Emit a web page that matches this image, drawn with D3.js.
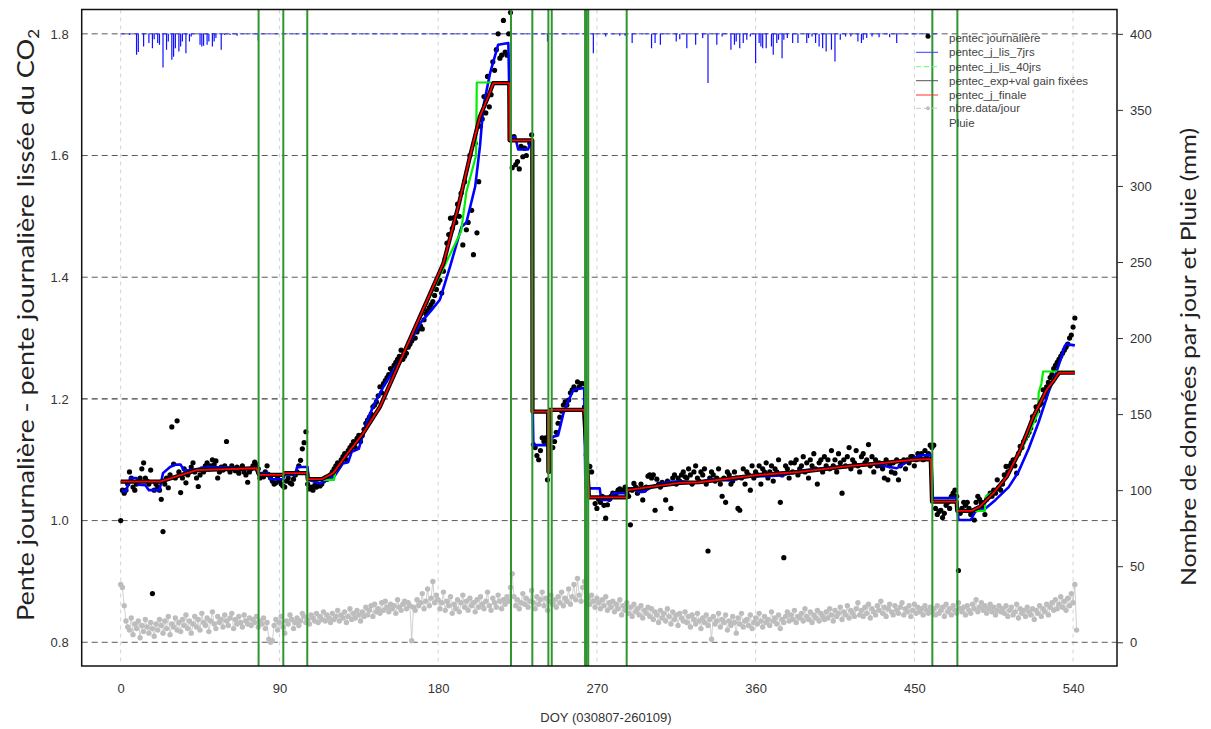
<!DOCTYPE html>
<html>
<head>
<meta charset="utf-8">
<script src="https://cdn.jsdelivr.net/npm/d3@7"></script>
<style>
  html, body { margin: 0; padding: 0; background: #fff; }
  svg { display: block; }
  .tick text { font-family: "Liberation Sans Narrow", "Liberation Sans", Arial, sans-serif; font-size: 13px; fill: #333; }
</style>
</head>
<body>
<svg id="chart" width="1211" height="729"></svg>
<script>
// ---------- axis ticks ----------
const xTicks = [0, 90, 180, 270, 360, 450, 540];
const yLeftTicks = [0.8, 1.0, 1.2, 1.4, 1.6, 1.8];
const yRightTicks = [0, 50, 100, 150, 200, 250, 300, 350, 400];

// ---------- daily CO2 slope (index = DOY, null = no value) ----------
const dailySlope = [
  1.00, 1.05, 1.045, 1.05, 1.06, 1.08, 1.07, 1.055, 1.05, 1.06, 1.065, 1.07, 1.085, 1.095, 1.07, 1.065, 1.06, 1.083, 0.88, 1.05,
  1.06, 1.055, 1.05, 1.035, 0.982, 1.06, 1.07, 1.054, 1.075, 1.154, 1.093, 1.07, 1.164, 1.08, 1.046, 1.07, 1.085, 1.062, 1.075, 1.08,
  1.088, 1.095, 1.08, 1.07, 1.056, 1.075, 1.085, 1.08, 1.09, 1.095, 1.085, 1.09, 1.10, 1.092, 1.098, 1.07, 1.08, 1.088, 1.083, 1.09,
  1.13, 1.085, 1.08, 1.09, 1.086, 1.082, 1.088, 1.078, 1.085, 1.09, 1.08, 1.075, 1.063, 1.08, 1.085, 1.09, 1.096, 1.092, 1.085, 1.07,
  1.075, 1.072, 1.08, 1.09, 1.075, 1.07, 1.065, 1.06, 1.062, 1.07, 1.065, 1.06, 1.057, 1.055, 1.065, 1.07, 1.062, 1.06, 1.068, 1.075,
  1.08, 1.09, 1.099, 1.118, 1.128, 1.146, 1.06, 1.052, 1.055, 1.05, 1.058, 1.055, 1.06, 1.057, 1.06, 1.065, 1.07, 1.068, 1.072, 1.075,
  1.08, 1.085, 1.09, 1.095, 1.09, 1.10, 1.105, 1.11, 1.10, 1.115, 1.12, 1.124, 1.13, 1.12, 1.135, 1.14, 1.13, 1.14, 1.15, 1.16,
  1.165, 1.17, 1.175, 1.187, 1.19, 1.195, 1.205, 1.22, 1.21, 1.225, 1.23, 1.235, 1.24, 1.25, 1.245, 1.255, 1.26, 1.265, 1.27, 1.28,
  1.265, 1.27, 1.275, 1.285, 1.29, 1.295, 1.30, 1.30, 1.31, 1.315, 1.32, 1.315, 1.33, 1.34, 1.345, 1.35, 1.355, 1.36, 1.37, 1.38,
  1.39, 1.395, 1.374, 1.41, 1.43, 1.456, 1.47, 1.497, 1.48, 1.498, 1.49, 1.52, 1.50, 1.538, 1.453, 1.557, 1.478, 1.49, 1.60, 1.51,
  1.437, 1.62, 1.473, 1.557, 1.648, 1.66, 1.697, 1.67, 1.73, 1.68, 1.70, 1.754, 1.74, 1.774, 1.80, 1.76, 1.765, 1.822, 1.77, 1.765,
  1.80, 1.835, 1.58, 1.631, 1.585, 1.59, 1.578, 1.615, 1.598, 1.612, 1.60, null, 1.62, 1.634, 1.125, 1.12, 1.107, 1.10, 1.115, 1.136,
  1.13, 1.136, 1.067, null, null, 1.12, 1.13, 1.145, 1.16, 1.17, 1.18, 1.19, 1.195, 1.19, 1.198, 1.21, 1.215, 1.22, 1.215, 1.228,
  1.22, 1.225, 1.225, 1.187, 1.108, null, 1.089, 1.08, null, 1.028, 1.02, 1.035, 1.03, 1.04, 1.025, 1.004, 1.026, 1.035, 1.04, 1.045,
  1.04, 1.045, 1.05, 1.052, 1.048, 1.05, 1.055, 1.045, 1.04, 0.993, 1.05, 1.061, 1.055, 1.045, 1.05, 1.06, 1.034, 1.05, 1.055, 1.073,
  1.075, 1.07, 1.075, 1.017, 1.068, 1.06, 1.055, 1.063, 1.06, 1.034, 1.065, 1.062, 1.02, 1.07, 1.075, 1.06, 1.07, 1.065, 1.075, 1.08,
  1.072, 1.07, 1.085, 1.075, 1.06, 1.08, 1.09, 1.07, 1.065, 1.08, 1.075, 1.085, 1.06, 0.95, 1.07, 1.08, 1.075, 1.065, 1.07, 1.085,
  1.06, 1.04, 1.07, 1.03, 1.08, 1.075, 1.06, 1.065, 1.08, 1.07, 1.02, 1.017, 1.07, 1.085, 1.06, 1.08, 1.075, 1.05, 1.09, 1.07,
  1.08, 1.075, 1.09, 1.06, 1.085, 1.08, 1.095, 1.07, 1.08, 1.09, 1.065, 1.085, 1.08, 1.10, 1.03, 1.075, 0.939, 1.09, 1.085, 1.07,
  1.095, 1.08, 1.095, 1.10, 1.075, 1.085, 1.09, 1.105, 1.08, 1.095, 1.07, 1.10, 1.09, 1.11, 1.085, 1.06, 1.095, 1.10, 1.08, 1.105,
  1.09, 1.10, 1.085, 1.115, 1.09, 1.10, 1.08, 1.11, 1.095, 1.045, 1.10, 1.09, 1.105, 1.12, 1.085, 1.10, 1.095, 1.115, 1.09, 1.08,
  1.105, 1.11, 1.095, 1.10, 1.125, 1.09, 1.105, 1.08, 1.10, 1.09, 1.095, 1.09, 1.085, 1.07, 1.10, 1.067, 1.09, 1.08, 1.095, 1.078,
  1.10, 1.067, 1.09, 1.095, 1.10, 1.085, 1.10, 1.095, 1.105, 1.105, 1.09, 1.10, 1.11, 1.105, 1.11, 1.10, 1.115, 1.105, 1.11, 1.124,
  1.12, 1.124, 1.02, 1.01, 1.015, 1.017, 1.005, 1.012, 1.025, 1.03, 1.02, 1.04, 1.045, 1.05, 1.04, 0.918, 1.012, 1.02, 1.03, 1.025,
  1.03, 1.02, 1.01, 1.015, 1.001, 1.03, 1.04, 1.035, 1.03, 1.02, 1.01, 1.035, 1.04, 1.045, 1.04, 1.05, 1.045, 1.067, 1.055, 1.05,
  1.06, 1.075, 1.089, 1.08, 1.09, 1.095, 1.10, 1.09, 1.078, 1.11, 1.122, 1.12, 1.13, 1.135, 1.14, 1.145, 1.152, 1.171, 1.165, 1.187,
  1.18, 1.19, 1.193, 1.215, 1.205, 1.22, 1.227, 1.235, 1.24, 1.25, 1.255, 1.26, 1.265, 1.27, 1.275, 1.28, 1.285, 1.29, 1.30, 1.305, 1.318, 1.333
];

// ---------- number of records per day (right axis, index = DOY) ----------
const dataPerDay = [
  38, 36, 24, 14, 10, 8, 16, 5, 12, 9, 14, 3, 11, 7, 15, 10, 6, 13, 9, 4,
  12, 8, 15, 11, 6, 14, 9, 17, 5, 12, 10, 16, 8, 13, 7, 15, 11, 18, 9, 14,
  6, 12, 17, 10, 15, 8, 19, 13, 11, 16, 7, 14, 20, 12, 9, 17, 13, 15, 10, 18,
  14, 11, 16, 19, 9, 15, 12, 17, 13, 10, 18, 14, 12, 16, 11, 15, 13, 17, 10, 14,
  12, 16, 9, 13, 2, 0, 1, 11, 15, 8, 13, 17, 10, 6, 14, 12, 18, 15, 9, 13,
  16, 11, 14, 19, 17, 13, 15, 12, 18, 16, 14, 19, 13, 17, 15, 20, 14, 18, 16, 13,
  19, 15, 17, 21, 14, 18, 16, 20, 13, 17, 22, 15, 19, 16, 21, 18, 14, 20, 17, 23,
  18, 21, 24, 17, 25, 20, 22, 19, 26, 21, 27, 23, 20, 25, 22, 24, 19, 28, 23, 21,
  25, 27, 22, 26, 24, 1, 23, 21, 28, 24, 26, 32, 22, 27, 35, 24, 29, 40, 26, 31,
  28, 22, 26, 33, 21, 27, 24, 30, 19, 25, 22, 28, 20, 26, 31, 23, 27, 21, 29, 24,
  26, 20, 28, 23, 30, 25, 22, 27, 33, 24, 21, 29, 26, 23, 31, 27, 22, 28, 25, 30,
  27, 36, 45, 30, 24, 28, 22, 26, 32, 25, 29, 23, 27, 34, 26, 22, 30, 25, 28, 33,
  24, 29, 21, 27, 31, 25, 28, 23, 30, 26, 33, 24, 29, 27, 35, 25, 30, 38, 28, 42,
  31, 27, 36, 40, 33, 29, 25, 31, 27, 23, 29, 26, 22, 28, 24, 30, 21, 26, 23, 27,
  20, 25, 22, 28, 18, 24, 21, 26, 19, 23, 17, 25, 20, 22, 18, 24, 16, 21, 19, 23,
  17, 22, 15, 20, 18, 13, 21, 16, 19, 14, 22, 17, 12, 20, 15, 18, 11, 19, 16, 14,
  20, 13, 17, 10, 18, 15, 12, 19, 14, 9, 16, 13, 18, 11, 15, 2, 17, 12, 14, 19,
  10, 15, 13, 18, 8, 14, 11, 17, 13, 6, 16, 12, 19, 10, 14, 15, 11, 18, 9, 13,
  16, 12, 19, 14, 10, 17, 13, 15, 11, 20, 14, 16, 12, 18, 9, 15, 13, 17, 20, 14,
  18, 15, 21, 13, 17, 16, 19, 14, 22, 17, 15, 20, 13, 18, 16, 21, 14, 19, 17, 15,
  20, 16, 22, 18, 14, 21, 17, 19, 23, 15, 20, 18, 24, 16, 21, 19, 17, 22, 26, 18,
  21, 17, 23, 19, 25, 16, 22, 20, 18, 24, 21, 27, 19, 23, 17, 22, 25, 20, 18, 24,
  21, 19, 23, 26, 18, 22, 20, 24, 17, 21, 25, 19, 23, 20, 22, 18, 24, 21, 19, 23,
  20, 22, 18, 24, 19, 21, 23, 17, 25, 20, 22, 18, 24, 21, 19, 26, 22, 20, 23, 18,
  24, 21, 19, 25, 22, 28, 20, 23, 26, 21, 24, 19, 22, 25, 20, 23, 18, 21, 24, 20,
  22, 19, 24, 17, 21, 23, 18, 20, 25, 16, 22, 19, 21, 17, 23, 20, 18, 22, 15, 21,
  19, 24, 17, 22, 20, 25, 18, 23, 26, 21, 28, 22, 25, 30, 23, 27, 21, 29, 24, 32, 26, 38, 8
];

// ---------- daily rain [DOY, mm], hung below the 400 line of the right axis ----------
const rainTop = 400;
const rainStart = 0, rainEnd = 463;
const rain = [
  [5, 0.7], [9, 13.8], [10, 12], [13, 8.3], [16, 6.1], [18, 9.4], [19, 3.5], [21, 6.1], [22, 7.2], [24, 22.1],
  [26, 10.5], [27, 5], [29, 17], [30, 15], [31, 9.4], [33, 11.6], [34, 8.3], [35, 5], [37, 12.7], [39, 5],
  [40, 1.8], [45, 7.2], [46, 8.3], [47, 7.9], [49, 7.2], [50, 5], [52, 8.3], [53, 5], [54, 2.8], [57, 10.5],
  [59, 0.7], [62, 0.7], [66, 1.3], [78, 4.4],
  [242, 5], [264, 5], [268, 12.7], [275, 1.8], [283, 1.3], [286, 1.3], [290, 6.1], [301, 9.4], [303, 6.1], [306, 7.2],
  [315, 5], [317, 3.5], [321, 9.4], [326, 7.2], [330, 2.8], [333, 32.4], [338, 7.2], [341, 1.8], [346, 10.5], [348, 7.2],
  [349, 5], [351, 9.4], [353, 6.1], [355, 3.9], [357, 1.8], [360, 19.3], [362, 6.1], [363, 8.3], [364, 9.4], [366, 9.4],
  [369, 8.3], [370, 13.8], [372, 6.1], [373, 3.9], [375, 16], [376, 3.9], [378, 2.8], [381, 6.1], [384, 6.1], [389, 6.1],
  [390, 2.8], [392, 1.8], [394, 6.1], [396, 8.3], [398, 9.4], [400, 11.6], [403, 10.5], [405, 18.2], [408, 3.9], [411, 1.8],
  [414, 1.8], [418, 5], [420, 6.1], [421, 3.9], [423, 2.8], [426, 1.8], [430, 2.2], [436, 2.2], [440, 6.1]
];

// ---------- smoothed / fitted slopes as [DOY, value] vertices ----------
const smooth7 = [
  [0.6, 1.05], [3, 1.048], [5.5, 1.07], [9, 1.07], [10, 1.059], [14, 1.058], [16, 1.05], [22, 1.05], [24, 1.078], [28, 1.088],
  [31, 1.092], [34, 1.092], [36, 1.082], [41.5, 1.084], [50, 1.088], [60, 1.087], [70, 1.086], [77, 1.087], [77.5, 1.078], [84, 1.078],
  [85, 1.068], [92, 1.068], [93, 1.075], [99, 1.075], [100, 1.088], [106, 1.088], [106.5, 1.067], [113, 1.061], [121, 1.072], [126, 1.094],
  [129, 1.096], [131, 1.113], [135, 1.118], [139, 1.157], [143, 1.187], [149, 1.22], [160, 1.272], [170, 1.325], [176, 1.345], [181, 1.363],
  [186.7, 1.417], [193.3, 1.483], [196, 1.49], [201, 1.549], [203.7, 1.615], [205.6, 1.68], [209.4, 1.735], [214, 1.782], [219.8, 1.785], [220.8, 1.63],
  [223.7, 1.63], [225.4, 1.61], [231, 1.61], [232, 1.62], [233.2, 1.62], [233.5, 1.204], [234, 1.124], [241.5, 1.124], [245.3, 1.138], [248, 1.14],
  [251, 1.176], [254, 1.198], [256.8, 1.215], [262.8, 1.218], [263.5, 1.053], [271.6, 1.053], [272.5, 1.034], [278, 1.034], [279, 1.045], [286.5, 1.045],
  [287.5, 1.053], [292, 1.053], [293, 1.047], [296, 1.047], [303, 1.058], [310, 1.063], [317, 1.065], [325, 1.062], [335, 1.068], [345, 1.066],
  [355, 1.072], [365, 1.073], [375, 1.074], [385, 1.082], [395, 1.085], [405, 1.088], [415, 1.09], [425, 1.093], [430.5, 1.091], [440, 1.086],
  [448, 1.10], [453, 1.107], [459.5, 1.108], [460.5, 1.037], [474, 1.037], [475, 1.001], [482, 1.001], [484.6, 1.015], [490.3, 1.02], [496, 1.034],
  [503.5, 1.055], [509, 1.08], [514.8, 1.118], [520.5, 1.162], [526.2, 1.212], [530, 1.24], [533, 1.265], [535, 1.285], [536, 1.29], [541, 1.288]
];

const smooth40 = [
  [0, 1.064], [22, 1.064], [43, 1.083], [77, 1.086], [78, 1.076], [92, 1.076], [105.8, 1.078], [106, 1.067], [121, 1.067], [122, 1.086],
  [128, 1.108], [137.6, 1.144], [147, 1.187], [153.7, 1.231], [174.4, 1.362], [183, 1.415], [193, 1.475], [196, 1.54], [201.5, 1.60], [201.9, 1.72],
  [210, 1.72], [211.3, 1.719], [220.3, 1.719], [220.5, 1.625], [233.4, 1.625], [233.5, 1.179], [242.5, 1.179], [243.5, 1.182], [262.7, 1.182], [265.7, 1.038],
  [287, 1.038], [287.2, 1.05], [317, 1.062], [328, 1.063], [362, 1.075], [385, 1.08], [414, 1.09], [430.5, 1.094], [449.4, 1.10], [459.3, 1.101],
  [460, 1.031], [474, 1.031], [474.5, 1.016], [490, 1.016], [490.5, 1.04], [494.8, 1.047], [502.4, 1.072], [510, 1.112], [517.5, 1.16], [520, 1.175],
  [520.5, 1.21], [522, 1.225], [523, 1.245], [541, 1.245]
];

const expGainFixed = [
  [0, 1.064], [22.3, 1.064], [43, 1.083], [77, 1.086], [78.5, 1.075], [92, 1.075], [93, 1.078], [105.8, 1.078], [106, 1.068], [114, 1.068],
  [120.5, 1.078], [128, 1.108], [137.6, 1.144], [147, 1.187], [153.7, 1.231], [174.4, 1.366], [183, 1.423], [191.4, 1.516], [198, 1.598], [203.7, 1.664],
  [208.4, 1.697], [211.3, 1.719], [220.3, 1.719], [220.5, 1.625], [233.4, 1.625], [233.5, 1.179], [242.3, 1.179], [242.5, 1.08], [243, 1.08], [243.2, 1.182],
  [262.7, 1.182], [265.5, 1.04], [265.7, 1.038], [287, 1.038], [287.2, 1.05], [317, 1.062], [328, 1.063], [362, 1.075], [385, 1.08], [414, 1.09],
  [430.5, 1.094], [449.4, 1.10], [459.3, 1.101], [460, 1.031], [474, 1.031], [474.3, 1.016], [482.5, 1.016], [487.2, 1.023], [494.8, 1.045], [502.4, 1.072],
  [510, 1.116], [517.5, 1.171], [525, 1.215], [529, 1.23], [532, 1.243], [541, 1.243]
];

const finalSlope = [
  [0, 1.064], [22.3, 1.064], [43, 1.083], [77, 1.086], [78.5, 1.075], [92, 1.075], [93, 1.078], [105.8, 1.078], [106, 1.068], [114, 1.068],
  [120.5, 1.078], [128, 1.108], [137.6, 1.144], [147, 1.187], [153.7, 1.231], [174.4, 1.366], [183, 1.423], [191.4, 1.516], [198, 1.598], [203.7, 1.664],
  [208.4, 1.697], [211.3, 1.719], [220.3, 1.719], [220.5, 1.625], [233.4, 1.625], [233.5, 1.179], [242.3, 1.179], [242.5, 1.08], [243, 1.08], [243.2, 1.182],
  [262.7, 1.182], [264, 1.15], [265.5, 1.05], [265.7, 1.038], [287, 1.038], [287.2, 1.05], [317, 1.062], [328, 1.063], [362, 1.075], [385, 1.08],
  [414, 1.09], [430.5, 1.094], [449.4, 1.10], [459.3, 1.101], [460, 1.031], [474, 1.031], [474.3, 1.016], [482.5, 1.016], [487.2, 1.023], [494.8, 1.045],
  [502.4, 1.072], [510, 1.116], [517.5, 1.171], [525, 1.215], [529, 1.23], [532, 1.243], [541, 1.243]
];

// ---------- event days (vertical green markers) ----------
const eventDays = [78.2, 92.2, 105.8, 221.3, 233.4, 242.5, 244.4, 263.3, 264.2, 265.1, 286.9, 460.2, 474.4];

// ---------- legend ----------
const legendLabels = [
  "pentec journalière", "pentec_j_lis_7jrs", "pentec_j_lis_40jrs",
  "pentec_exp+val gain fixées", "pentec_j_finale", "nbre.data/jour", "Pluie"
];

// ================= drawing =================
const svg = d3.select("#chart");
const box = { left: 81.7, right: 1117, top: 9.5, bottom: 666 };

const x = d3.scaleLinear().domain([-22.1, 564.9]).range([box.left, box.right]);
const yL = d3.scaleLinear().domain([0.761, 1.840]).range([box.bottom, box.top]);
const yR = d3.scaleLinear().domain([-15.6, 416]).range([box.bottom, box.top]);

svg.append("defs").append("clipPath").attr("id", "plotClip")
  .append("rect")
  .attr("x", box.left).attr("y", box.top)
  .attr("width", box.right - box.left).attr("height", box.bottom - box.top);

const plot = svg.append("g").attr("clip-path", "url(#plotClip)");

// vertical light grid
plot.append("g").selectAll("line").data(xTicks).join("line")
  .attr("x1", d => x(d)).attr("x2", d => x(d))
  .attr("y1", box.top).attr("y2", box.bottom)
  .attr("stroke", "#d4d4d4").attr("stroke-width", 1).attr("stroke-dasharray", "4,4");

// horizontal grid at left ticks
plot.append("g").selectAll("line").data(yLeftTicks).join("line")
  .attr("x1", box.left).attr("x2", box.right)
  .attr("y1", d => yL(d)).attr("y2", d => yL(d))
  .attr("stroke", d => d === 1.2 ? "#111" : "#5a5a5a")
  .attr("stroke-width", 1).attr("stroke-dasharray", "6,4");

// number of records per day (grey, points joined by thin lines)
const dpd = dataPerDay.map((v, i) => [i, v]);
plot.append("path").datum(dpd)
  .attr("fill", "none").attr("stroke", "#c4c4c4").attr("stroke-width", 0.8)
  .attr("d", d3.line().x(d => x(d[0])).y(d => yR(d[1])));
plot.append("g").selectAll("circle").data(dpd).join("circle")
  .attr("cx", d => x(d[0])).attr("cy", d => yR(d[1])).attr("r", 2.7)
  .attr("fill", "#bdbdbd");

// rain: baseline and hanging bars
plot.append("line")
  .attr("x1", x(rainStart)).attr("x2", x(rainEnd))
  .attr("y1", yR(rainTop)).attr("y2", yR(rainTop))
  .attr("stroke", "#2b2bff").attr("stroke-width", 1).attr("stroke-dasharray", "4,3");
plot.append("g").selectAll("line").data(rain).join("line")
  .attr("x1", d => x(d[0])).attr("x2", d => x(d[0]))
  .attr("y1", yR(rainTop)).attr("y2", d => yR(rainTop - d[1]))
  .attr("stroke", "#1010ff").attr("stroke-width", 1.2);

// daily slope points
const pts = dailySlope.map((v, i) => [i, v]).filter(d => d[1] !== null);
plot.append("g").selectAll("circle").data(pts).join("circle")
  .attr("cx", d => x(d[0])).attr("cy", d => yL(d[1])).attr("r", 2.6)
  .attr("fill", "#000");

const lineL = d3.line().x(d => x(d[0])).y(d => yL(d[1]));

plot.append("path").datum(smooth7)
  .attr("fill", "none").attr("stroke", "#0000ff").attr("stroke-width", 2.6)
  .attr("stroke-linejoin", "round").attr("d", lineL);
plot.append("path").datum(smooth40)
  .attr("fill", "none").attr("stroke", "#00ee00").attr("stroke-width", 2.2)
  .attr("stroke-linejoin", "round").attr("d", lineL);
plot.append("path").datum(expGainFixed)
  .attr("fill", "none").attr("stroke", "#000").attr("stroke-width", 4.2)
  .attr("stroke-linejoin", "round").attr("d", lineL);
plot.append("path").datum(finalSlope)
  .attr("fill", "none").attr("stroke", "#ff0000").attr("stroke-width", 1.8)
  .attr("stroke-linejoin", "round").attr("d", lineL);

// event markers
plot.append("g").selectAll("line").data(eventDays).join("line")
  .attr("x1", d => x(d)).attr("x2", d => x(d))
  .attr("y1", box.top).attr("y2", box.bottom)
  .attr("stroke", "#2f962f").attr("stroke-width", 2);

// frame
svg.append("rect")
  .attr("x", box.left).attr("y", box.top)
  .attr("width", box.right - box.left).attr("height", box.bottom - box.top)
  .attr("fill", "none").attr("stroke", "#111").attr("stroke-width", 1.5);

// axes
const gx = svg.append("g").attr("transform", `translate(0,${box.bottom})`)
  .call(d3.axisBottom(x).tickValues(xTicks).tickSize(0).tickPadding(18).tickFormat(d3.format("d")));
gx.select(".domain").remove();

const gl = svg.append("g").attr("transform", `translate(${box.left},0)`)
  .call(d3.axisLeft(yL).tickValues(yLeftTicks).tickSize(0).tickPadding(13).tickFormat(d3.format(".1f")));
gl.select(".domain").remove();

const gr = svg.append("g").attr("transform", `translate(${box.right},0)`)
  .call(d3.axisRight(yR).tickValues(yRightTicks).tickSize(6).tickPadding(7).tickFormat(d3.format("d")));
gr.select(".domain").remove();
gr.selectAll(".tick line").attr("stroke", "#333");

// axis titles
svg.append("text")
  .attr("x", 606).attr("y", 722)
  .attr("text-anchor", "middle")
  .attr("font-family", "'Liberation Sans Narrow', 'Liberation Sans', Arial, sans-serif")
  .attr("font-size", 13).attr("fill", "#333")
  .text("DOY (030807-260109)");

const leftTitle = svg.append("text")
  .attr("transform", "translate(34,325) rotate(-90)")
  .attr("text-anchor", "middle")
  .attr("font-family", "Lato, 'Open Sans', sans-serif")
  .attr("font-size", 24).attr("fill", "#222")
  .attr("textLength", 592).attr("lengthAdjust", "spacingAndGlyphs");
leftTitle.append("tspan").text("Pente journalière - pente journalière lissée du CO");
leftTitle.append("tspan").attr("font-size", 15).attr("dy", 5).text("2");

svg.append("text")
  .attr("transform", "translate(1196,357) rotate(-90)")
  .attr("text-anchor", "middle")
  .attr("font-family", "Lato, 'Open Sans', sans-serif")
  .attr("font-size", 22).attr("fill", "#222")
  .attr("textLength", 458).attr("lengthAdjust", "spacingAndGlyphs")
  .text("Nombre de données par jour et Pluie (mm)");

// legend
const legRows = [38.3, 52.3, 66.7, 80.7, 95, 108.3, 122.7];
const leg = svg.append("g");
const sx0 = 916, sx1 = 938, tx = 949;
legendLabels.forEach((lab, i) => {
  const yy = legRows[i];
  if (i === 0) {
    leg.append("circle").attr("cx", 928).attr("cy", yy - 2).attr("r", 2.5).attr("fill", "#000");
  } else if (i === 1) {
    leg.append("line").attr("x1", sx0).attr("x2", sx1).attr("y1", yy).attr("y2", yy)
      .attr("stroke", "#3a3aff").attr("stroke-width", 1);
  } else if (i === 2) {
    leg.append("line").attr("x1", sx0).attr("x2", sx1).attr("y1", yy).attr("y2", yy)
      .attr("stroke", "#66ff66").attr("stroke-width", 1).attr("stroke-dasharray", "5,3");
  } else if (i === 3) {
    leg.append("line").attr("x1", sx0).attr("x2", sx1).attr("y1", yy).attr("y2", yy)
      .attr("stroke", "#555").attr("stroke-width", 1);
  } else if (i === 4) {
    leg.append("line").attr("x1", sx0).attr("x2", sx1).attr("y1", yy).attr("y2", yy)
      .attr("stroke", "#ff3030").attr("stroke-width", 1);
  } else if (i === 5) {
    leg.append("line").attr("x1", sx0).attr("x2", sx1).attr("y1", yy).attr("y2", yy)
      .attr("stroke", "#c8c8c8").attr("stroke-width", 1).attr("stroke-dasharray", "5,3");
    leg.append("circle").attr("cx", 928).attr("cy", yy).attr("r", 2).attr("fill", "#c0c0c0");
  }
  leg.append("text")
    .attr("x", tx).attr("y", yy).attr("dy", "0.35em")
    .attr("font-family", "'Liberation Sans', Arial, sans-serif")
    .attr("font-size", 11.5).attr("fill", "#444")
    .text(lab);
});
</script>
</body>
</html>
